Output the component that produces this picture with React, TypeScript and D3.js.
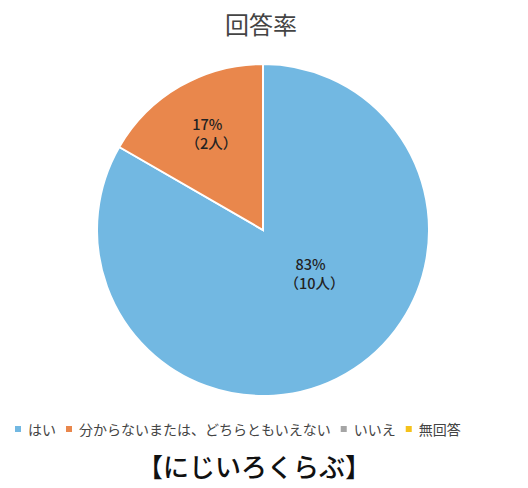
import React, { useEffect, useRef } from "react";
import * as d3 from "d3";

const categories = ["はい", "分からないまたは、どちらともいえない", "いいえ", "無回答"];
const counts = [10, 2, 0, 0];
const percentLabels = ["83%", "17%", "0%", "0%"];
const colors = ["#72b8e2", "#e9874c", "#a5a5a5", "#f5c21b"];
const title = "回答率";
const groupName = "【にじいろくらぶ】";

const FONT = "'Noto Sans CJK JP', 'Noto Sans', sans-serif";

const App = () => {
  const svgRef = useRef<SVGSVGElement>(null);

  useEffect(() => {
    const width = 528, height = 488;
    const cx = 263, cy = 230, r = 166;

    const svg = d3.select(svgRef.current)
      .attr("width", width)
      .attr("height", height)
      .style("position", "absolute")
      .style("left", "0px")
      .style("top", "0px")
      .style("background", "#fff");
    svg.selectAll("*").remove();

    svg.append("text")
      .attr("x", 261)
      .attr("y", 34)
      .attr("text-anchor", "middle")
      .attr("font-family", FONT)
      .attr("font-size", 24)
      .attr("fill", "#444")
      .text(title);

    const pie = d3.pie<number>().sort(null).value(d => d);
    const arcs = pie(counts);
    const arc = d3.arc<d3.PieArcDatum<number>>().innerRadius(0).outerRadius(r);

    const g = svg.append("g").attr("transform", `translate(${cx},${cy})`);

    g.selectAll("path")
      .data(arcs.filter(a => a.value > 0))
      .enter().append("path")
      .attr("d", arc)
      .attr("fill", d => colors[d.index])
      .attr("stroke", "#fff")
      .attr("stroke-width", 2);

    // label positions (Excel puts the big slice's label nearer the centre)
    arcs.filter(a => a.value > 0).forEach(a => {
      const span = a.endAngle - a.startAngle;
      let ang = (a.startAngle + a.endAngle) / 2;
      let rr = r * 0.67;
      if (span > Math.PI) {
        ang -= 0.3;
        rr = r * 0.39;
      }
      const x = Math.sin(ang) * rr;
      const y = -Math.cos(ang) * rr;
      const t = g.append("text")
        .attr("text-anchor", "middle")
        .attr("font-family", FONT)
        .attr("font-size", 14.5)
        .attr("font-weight", 500)
        .attr("fill", "#222");
      t.append("tspan").attr("x", x).attr("y", y - 4).text(percentLabels[a.index]);
      t.append("tspan").attr("x", x + 4).attr("y", y + 15).text(`（${counts[a.index]}人）`);
    });

    // legend
    const legend = svg.append("g").attr("transform", "translate(0,430)");
    let lx = 15;
    categories.forEach((c, i) => {
      legend.append("rect")
        .attr("x", lx)
        .attr("y", -4)
        .attr("width", 6)
        .attr("height", 6)
        .attr("fill", colors[i]);
      const t = legend.append("text")
        .attr("x", lx + 13)
        .attr("y", 5)
        .attr("font-family", FONT)
        .attr("font-size", 14)
        .attr("fill", "#444")
        .text(c);
      const w = (t.node() as SVGTextElement).getComputedTextLength();
      lx += 13 + w + 10;
    });

    svg.append("text")
      .attr("x", 254)
      .attr("y", 477)
      .attr("text-anchor", "middle")
      .attr("font-family", FONT)
      .attr("font-size", 26)
      .attr("font-weight", 500)
      .attr("fill", "#111")
      .text(groupName);
  }, []);

  return <svg ref={svgRef}></svg>;
};

export default App;
